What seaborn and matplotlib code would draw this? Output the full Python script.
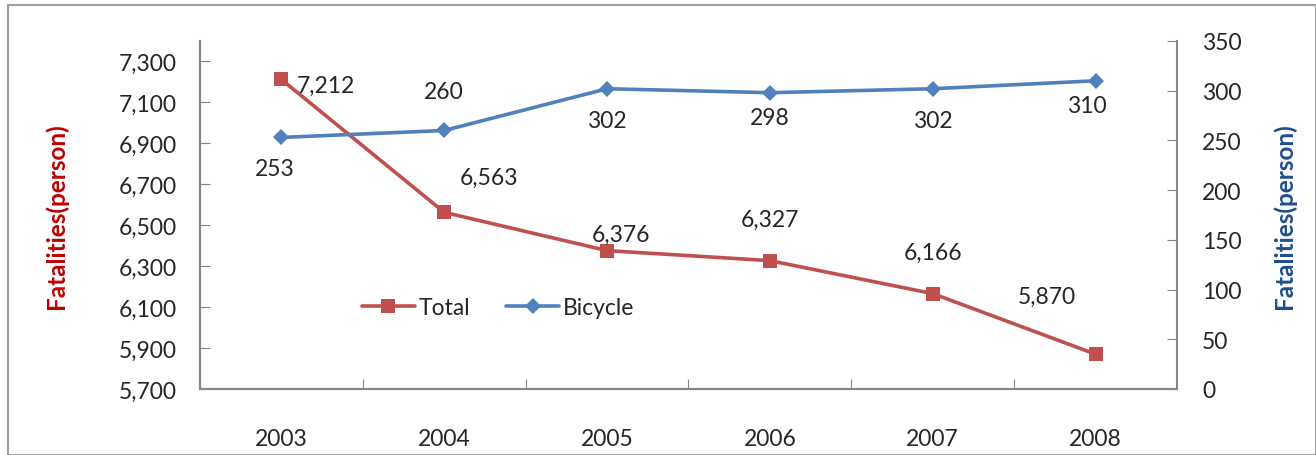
import matplotlib
matplotlib.use("Agg")
import matplotlib.pyplot as plt
import seaborn as sns
import pandas as pd
from matplotlib.patches import Rectangle

# Data
years = ["2003", "2004", "2005", "2006", "2007", "2008"]
total = [7212, 6563, 6376, 6327, 6166, 5870]
bicycle = [253, 260, 302, 298, 302, 310]

left_ticks = [5700, 5900, 6100, 6300, 6500, 6700, 6900, 7100, 7300]
right_ticks = [0, 50, 100, 150, 200, 250, 300, 350]

RED = "#C0504D"
BLUE = "#4F81BD"
AXIS_GRAY = "#868686"
FS = 16.5

sns.set_style("white")
plt.rcParams["font.family"] = ["Lato", "DejaVu Sans"]

df = pd.DataFrame({"idx": range(len(years)), "year": years,
                   "Total": total, "Bicycle": bicycle})

fig = plt.figure(figsize=(13.16, 4.56), dpi=100)
ax = fig.add_axes([200 / 1316, 1 - 390 / 456, 977 / 1316, 348 / 456])
ax2 = ax.twinx()

sns.lineplot(data=df, x="idx", y="Total", ax=ax, color=RED, lw=2.6,
             marker="s", markersize=10, markeredgewidth=0, label="Total", legend=False)
sns.lineplot(data=df, x="idx", y="Bicycle", ax=ax2, color=BLUE, lw=2.6,
             marker="D", markersize=8, markeredgewidth=0, label="Bicycle", legend=False)

ax.set_xlim(-0.5, len(years) - 0.5)
ax.set_ylim(5700, 7400)
ax2.set_ylim(0, 350)
ax.set_yticks(left_ticks)
ax.set_yticklabels([f"{v:,}" for v in left_ticks])
ax2.set_yticks(right_ticks)
ax.set_xticks([i + 0.5 for i in range(len(years) - 1)])
ax.set_xticklabels([])
ax.set_xticks(range(len(years)), minor=True)
ax.set_xticklabels(years, minor=True)

ax.tick_params(axis="y", which="major", direction="in", length=7, color=AXIS_GRAY,
               labelsize=FS, pad=17, left=True)
ax.tick_params(axis="x", which="major", direction="in", length=7, color=AXIS_GRAY, bottom=True)
ax.tick_params(axis="x", which="minor", length=0, labelsize=FS, pad=28)
ax2.tick_params(axis="y", direction="in", length=7, color=AXIS_GRAY, labelsize=FS, pad=18, right=True)

for a in (ax, ax2):
    a.spines["top"].set_visible(False)
    for s in ("left", "right", "bottom"):
        a.spines[s].set_color(AXIS_GRAY)
        a.spines[s].set_linewidth(1.5)
ax.spines["right"].set_visible(False)

ax.set_xlabel("")
ax.set_ylabel("Fatalities(person)", color="#C00000", fontsize=17.5, fontweight="bold", labelpad=36)
ax2.set_ylabel("Fatalities(person)", color="#1F4E8C", fontsize=17.5, fontweight="bold", labelpad=22)

# data labels (offsets in points)
total_off = [(32, -4), (32, 25), (10, 12), (0, 30), (0, 30), (-35, 42)]
for i, v in enumerate(total):
    dx, dy = total_off[i]
    ax.annotate(f"{v:,}", (i, v), xytext=(dx, dy), textcoords="offset points",
                ha="center", va="center", fontsize=FS)
bike_off = [(-5, -22), (0, 28), (0, -23), (0, -18), (0, -23), (-6, -18)]
for i, v in enumerate(bicycle):
    dx, dy = bike_off[i]
    ax2.annotate(str(v), (i, v), xytext=(dx, dy), textcoords="offset points",
                 ha="center", va="center", fontsize=FS)

h1, l1 = ax.get_legend_handles_labels()
h2, l2 = ax2.get_legend_handles_labels()
ax2.legend(h1 + h2, l1 + l2, loc="center", bbox_to_anchor=(0.305, 0.235), ncol=2,
           frameon=False, fontsize=FS, handlelength=2.3, columnspacing=1.6,
           handletextpad=0.15)

# outer frame like the slide chart box
fig.patches.append(Rectangle((8 / 1316, 0), 1 - 8 / 1316, 1 - 6 / 456, transform=fig.transFigure,
                             fill=False, edgecolor="#A0A0A0", lw=1.5))

fig.savefig("out.png", dpi=100)
